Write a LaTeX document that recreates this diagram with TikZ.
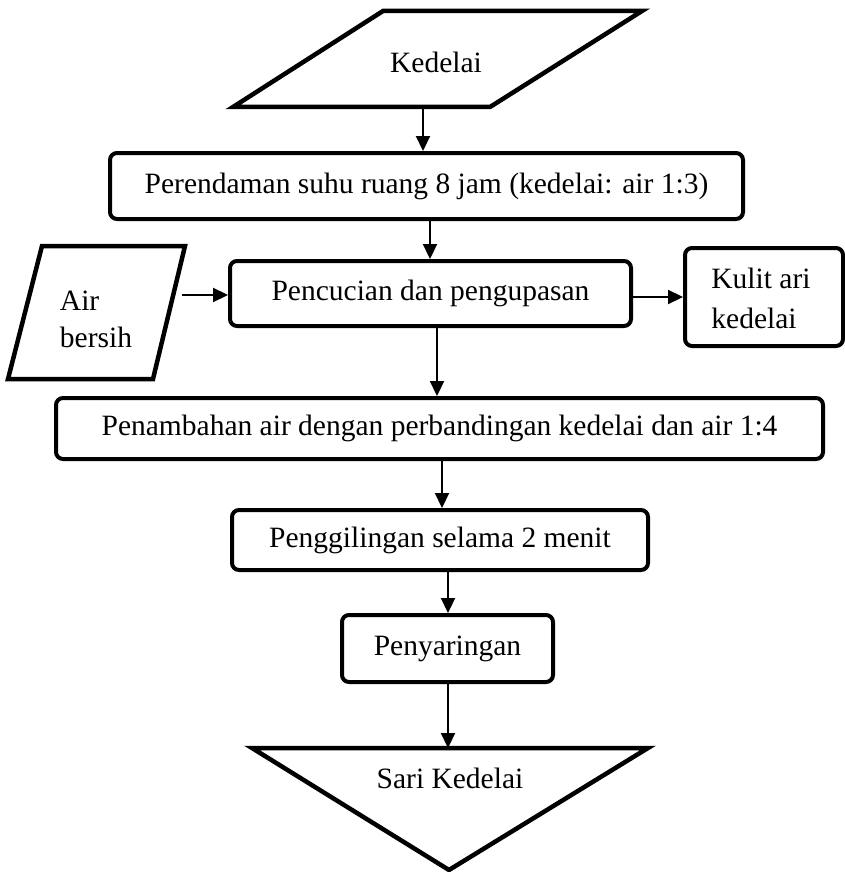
\documentclass[tikz,border=0pt]{standalone}
\usepackage{fontspec}
\setmainfont{Liberation Serif}
\usetikzlibrary{arrows.meta, positioning}

\begin{document}
\begin{tikzpicture}[x=1pt, y=-1pt,
  every node/.style={font=\fontsize{29.5}{37}\selectfont, align=center},
  proses/.style={draw, rounded corners=7pt, line width=4pt, inner sep=0pt},
  bentuk/.style={draw, line width=4.5pt, line join=miter},
  panah/.style={-{Triangle[length=15pt, width=14pt]}, line width=2.2pt}]
\useasboundingbox (0,0) rectangle (845,872);

% bahan masuk dan hasil
\draw[bentuk] (233,107) -- (490,107) -- (642,11) -- (383,11) -- cycle;
\draw[bentuk] (8,379) -- (153,379) -- (185,246) -- (42,246) -- cycle;
\draw[bentuk] (252,748) -- (648,748) -- (449,870) -- cycle;
\node (kedelai) at (436,62) {Kedelai};
\node[align=left] (air) at (96,319) {Air\\bersih};
\node (sari) at (450,778) {Sari Kedelai};
\coordinate (kedelaiB) at (423,107);
\coordinate (airR) at (182,295);
\coordinate (sariT) at (448,748);

% tahapan proses
\node[proses, minimum width=633pt, minimum height=66pt] (rendam) at (426.5,186) {Perendaman suhu ruang 8 jam (kedelai: air 1:3)};
\node[proses, minimum width=401pt, minimum height=65pt] (cuci) at (430.5,293.5) {Pencucian dan pengupasan};
\node[proses, minimum width=158pt, minimum height=98pt] (kulit) at (764,297) {};
\node[align=left, font=\fontsize{29.5}{40}\selectfont] (kulitT) at (761,298) {Kulit ari\\kedelai};
\node[proses, minimum width=767pt, minimum height=61pt] (tambah) at (439.5,428.5) {Penambahan air dengan perbandingan kedelai dan air 1:4};
\node[proses, minimum width=416pt, minimum height=60pt] (giling) at (440,540) {Penggilingan selama 2 menit};
\node[proses, minimum width=211pt, minimum height=67pt] (saring) at (447.5,648.5) {Penyaringan};

\draw[panah] (kedelaiB) -- (kedelaiB |- rendam.north);
\draw[panah] (430,0 |- rendam.south) -- (430,0 |- cuci.north);
\draw[panah] (airR) -- (airR -| cuci.west);
\draw[panah] (cuci.east |- 0,297) -- (kulit.west |- 0,297);
\draw[panah] (437,0 |- cuci.south) -- (437,0 |- tambah.north);
\draw[panah] (442,0 |- tambah.south) -- (442,0 |- giling.north);
\draw[panah] (448,0 |- giling.south) -- (448,0 |- saring.north);
\draw[panah] (448,0 |- saring.south) -- (sariT);
\end{tikzpicture}
\end{document}
